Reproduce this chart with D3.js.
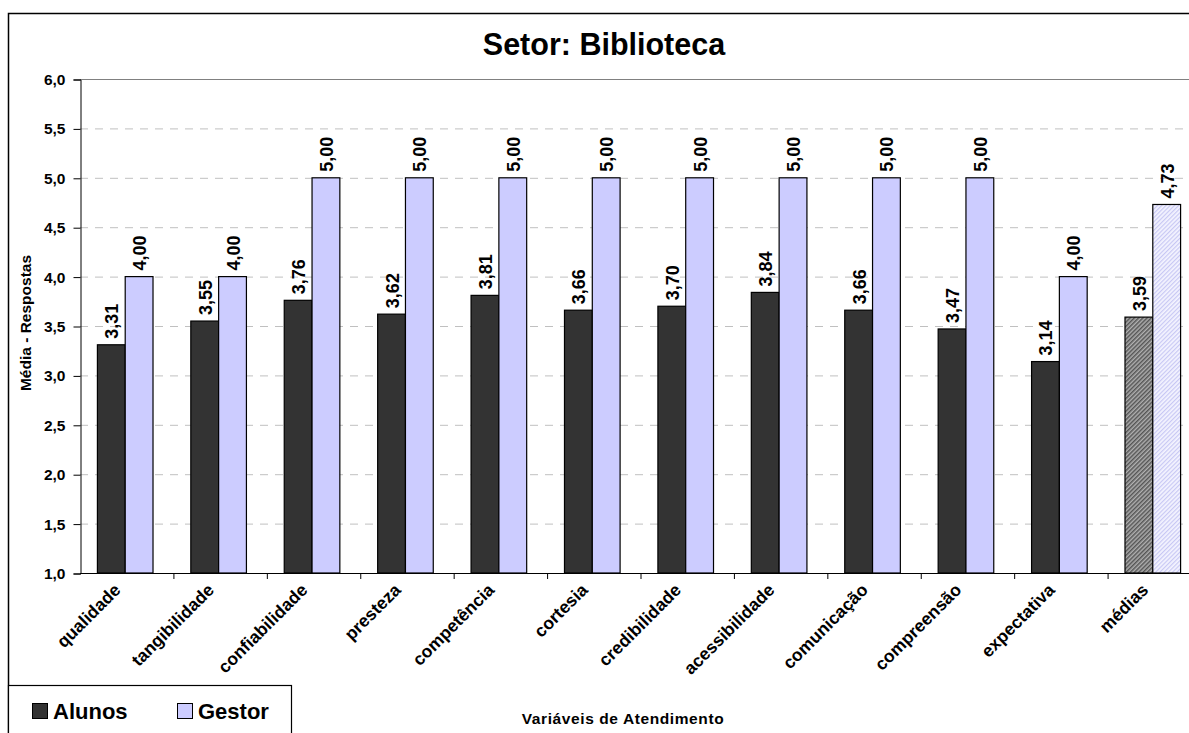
<!DOCTYPE html>
<html>
<head>
<meta charset="utf-8">
<script src="https://cdn.jsdelivr.net/npm/d3@7"></script>
<style>
  html, body { margin: 0; padding: 0; background: #fff; }
  svg { display: block; font-family: "Liberation Sans", Arial, sans-serif; }
</style>
</head>
<body>
<svg id="chart" width="1189" height="733"></svg>
<script>
// Service-quality averages per attendance variable, library sector
const categories = ["qualidade", "tangibilidade", "confiabilidade", "presteza", "competência",
  "cortesia", "credibilidade", "acessibilidade", "comunicação", "compreensão", "expectativa", "médias"];
const alunos = [3.31, 3.55, 3.76, 3.62, 3.81, 3.66, 3.70, 3.84, 3.66, 3.47, 3.14, 3.59];
const gestor = [4.00, 4.00, 5.00, 5.00, 5.00, 5.00, 5.00, 5.00, 5.00, 5.00, 4.00, 4.73];
const seriesNames = ["Alunos", "Gestor"];
const yTicks = [1.0, 1.5, 2.0, 2.5, 3.0, 3.5, 4.0, 4.5, 5.0, 5.5, 6.0];

const svg = d3.select("#chart");
const fmt2 = v => d3.format(".2f")(v).replace(".", ",");
const fmt1 = v => d3.format(".1f")(v).replace(".", ",");

// Patterns for the summary ("médias") bars
const defs = svg.append("defs");
const pA = defs.append("pattern").attr("id", "hatchA").attr("patternUnits", "userSpaceOnUse")
  .attr("width", 3).attr("height", 3).attr("patternTransform", "rotate(45)");
pA.append("rect").attr("width", 3).attr("height", 3).attr("fill", "#b0b0b0");
pA.append("rect").attr("width", 1.5).attr("height", 3).attr("fill", "#555555");
const pG = defs.append("pattern").attr("id", "hatchG").attr("patternUnits", "userSpaceOnUse")
  .attr("width", 3).attr("height", 3).attr("patternTransform", "rotate(45)");
pG.append("rect").attr("width", 3).attr("height", 3).attr("fill", "#f4f4ff");
pG.append("rect").attr("width", 1.2).attr("height", 3).attr("fill", "#c8c8f4");

// Chart frame
svg.append("rect").attr("x", 8.5).attr("y", 13.5).attr("width", 1200).attr("height", 760)
  .attr("fill", "none").attr("stroke", "#000").attr("stroke-width", 1.5);

const plot = { left: 80, right: 1201, top: 79, bottom: 573 };

const x0 = d3.scaleBand().domain(categories).range([plot.left, plot.right]).paddingInner(0).paddingOuter(0);
const x1 = d3.scaleBand().domain(seriesNames).range([-1.5, x0.bandwidth() - 1.5]).paddingInner(0).paddingOuter(0.68);
const y = d3.scaleLinear().domain([1, 6]).range([plot.bottom, plot.top]);

// Title
svg.append("text").attr("x", 604).attr("y", 55).attr("text-anchor", "middle")
  .attr("font-size", 30.5).attr("font-weight", "bold").text("Setor: Biblioteca");

// Gridlines
svg.append("g").selectAll("line").data(yTicks.filter(t => t > 1 && t < 6)).join("line")
  .attr("x1", plot.left).attr("x2", plot.right)
  .attr("y1", d => y(d) + 0.5).attr("y2", d => y(d) + 0.5)
  .attr("stroke", "#c0c0c0").attr("stroke-dasharray", "8,7");
svg.append("line").attr("x1", plot.left).attr("x2", plot.right)
  .attr("y1", y(6) + 0.5).attr("y2", y(6) + 0.5).attr("stroke", "#808080");

// Y axis
const yAxis = d3.axisLeft(y).tickValues(yTicks).tickFormat(fmt1).tickSize(7).tickPadding(8);
const gy = svg.append("g").attr("transform", `translate(${plot.left + 0.5},0.5)`).call(yAxis);
gy.select(".domain").attr("stroke", "#000");
gy.selectAll(".tick line").attr("stroke", "#000");
gy.selectAll(".tick text").attr("font-size", 15.5).attr("font-weight", "bold").attr("fill", "#000")
  .attr("font-family", "Liberation Sans, Arial, sans-serif");

// Bars
const groups = svg.append("g").selectAll("g").data(categories).join("g")
  .attr("transform", d => `translate(${x0(d)},0)`);

groups.each(function (c, i) {
  const g = d3.select(this);
  const last = i === categories.length - 1;
  const vals = [
    { s: "Alunos", v: alunos[i], fill: last ? "url(#hatchA)" : "#333333" },
    { s: "Gestor", v: gestor[i], fill: last ? "url(#hatchG)" : "#ccccff" }
  ];
  g.selectAll("rect").data(vals).join("rect")
    .attr("x", d => x1(d.s)).attr("width", x1.bandwidth())
    .attr("y", d => y(d.v)).attr("height", d => y(1) - y(d.v))
    .attr("fill", d => d.fill).attr("stroke", "#000").attr("stroke-width", 1.2);
  g.selectAll("text").data(vals).join("text")
    .attr("transform", d => `translate(${x1(d.s) + x1.bandwidth() / 2 + 7},${y(d.v) - 6}) rotate(-90)`)
    .attr("font-size", 18).attr("font-weight", "bold").text(d => fmt2(d.v));
});

// X axis line and category separators
svg.append("line").attr("x1", plot.left).attr("x2", plot.right)
  .attr("y1", plot.bottom + 0.5).attr("y2", plot.bottom + 0.5).attr("stroke", "#000");
svg.append("g").selectAll("line").data(categories.slice(1)).join("line")
  .attr("x1", d => x0(d) + 0.5).attr("x2", d => x0(d) + 0.5)
  .attr("y1", plot.bottom).attr("y2", plot.bottom + 6).attr("stroke", "#000");

// Category labels
svg.append("g").selectAll("text").data(categories).join("text")
  .attr("transform", d => `translate(${x0(d) + x0.bandwidth() / 2 - 5},${plot.bottom + 18}) rotate(-45)`)
  .attr("text-anchor", "end").attr("font-size", 17.5).attr("font-weight", "bold").text(d => d);

// Axis titles
svg.append("text").attr("transform", "translate(31,323) rotate(-90)").attr("text-anchor", "middle")
  .attr("font-size", 15.5).attr("font-weight", "bold").text("Média - Respostas");
svg.append("text").attr("x", 623).attr("y", 724).attr("text-anchor", "middle")
  .attr("font-size", 15.5).attr("font-weight", "bold").attr("letter-spacing", 0.6)
  .text("Variáveis de Atendimento");

// Legend
const lg = svg.append("g");
lg.append("rect").attr("x", 8.5).attr("y", 685.5).attr("width", 283).attr("height", 80)
  .attr("fill", "#fff").attr("stroke", "#000").attr("stroke-width", 1.2);
const legendItems = [
  { name: seriesNames[0], fill: "#333333", x: 32 },
  { name: seriesNames[1], fill: "#ccccff", x: 177 }
];
legendItems.forEach(it => {
  lg.append("rect").attr("x", it.x + 0.5).attr("y", 703.5).attr("width", 15).attr("height", 15)
    .attr("fill", it.fill).attr("stroke", "#000").attr("stroke-width", 1);
  lg.append("text").attr("x", it.x + 21).attr("y", 719).attr("font-size", 22)
    .attr("font-weight", "bold").text(it.name);
});
</script>
</body>
</html>
